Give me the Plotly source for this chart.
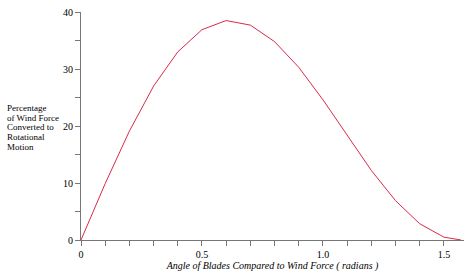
import plotly.graph_objects as go

angle = [0.0, 0.1, 0.2, 0.3, 0.4, 0.5, 0.6, 0.7, 0.8, 0.9, 1.0, 1.1, 1.2, 1.3, 1.4, 1.5, 1.5708]
percent = [0.0, 9.9, 19.1, 27.0, 33.0, 36.9, 38.5, 37.7, 34.8, 30.3, 24.6, 18.3, 12.2, 6.9, 2.85, 0.5, 0.0]

x_ticks = [0, 0.5, 1.0, 1.5]
x_labels = ["0", "0.5", "1.0", "1.5"]
y_ticks = [0, 10, 20, 30, 40]
y_labels = ["0", "10", "20", "30", "40"]
y_title_lines = ["Percentage", "of Wind Force", "Converted to", "Rotational", "Motion"]

font = "Liberation Serif"

fig = go.Figure()
fig.add_trace(go.Scatter(x=angle, y=percent, mode="lines",
                         line=dict(color="#d92a4a", width=1), hoverinfo="skip"))

axis_common = dict(showgrid=False, zeroline=False, showline=True, linecolor="#777777",
                   linewidth=1, ticks="outside", ticklen=5, tickcolor="#777777",
                   tickfont=dict(family=font, size=10, color="black"))

fig.update_layout(
    width=470, height=274,
    margin=dict(l=81, r=6, t=9, b=34),
    paper_bgcolor="white", plot_bgcolor="white",
    showlegend=False,
    xaxis=dict(range=[0, 1.583], tickvals=x_ticks, ticktext=x_labels,
               minor=dict(dtick=0.1, tick0=0, ticks="outside", ticklen=5, tickcolor="#777777"),
               title=dict(text="<i>Angle of Blades Compared to Wind Force ( radians )</i>",
                          font=dict(family=font, size=10, color="black"), standoff=0),
               **axis_common),
    yaxis=dict(range=[0, 40], tickvals=y_ticks, ticktext=y_labels,
               minor=dict(dtick=5, tick0=0, ticks="outside", ticklen=5, tickcolor="#777777"),
               **axis_common),
)

for i, line in enumerate(y_title_lines):
    ypix = 106 + 9.9 * i
    fig.add_annotation(text=line, xref="paper", yref="paper",
                       x=(6 - 81) / 383, y=(240 - ypix) / 231,
                       xanchor="left", yanchor="middle", align="left", showarrow=False,
                       borderpad=0,
                       font=dict(family=font, size=9, color="black"))

fig.write_html("out.html")
